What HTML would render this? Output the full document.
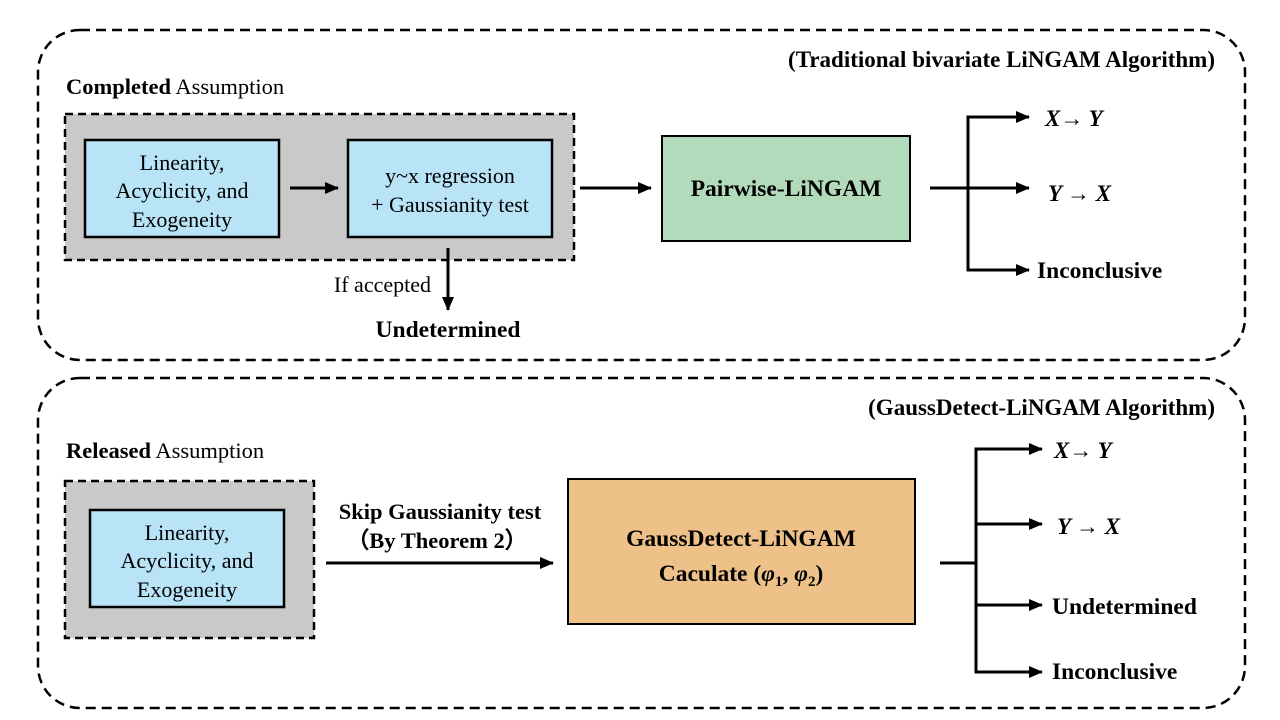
<!DOCTYPE html>
<html><head><meta charset="utf-8"><style>
html,body{margin:0;padding:0;background:#fff;}
svg{display:block;}
text{font-family:"Liberation Serif",serif;fill:#000;}
.b{font-weight:bold;}
</style></head><body>
<svg width="1280" height="720" viewBox="0 0 1280 720" xmlns="http://www.w3.org/2000/svg">
<defs>
<marker id="ah" markerWidth="14" markerHeight="12" refX="13" refY="6" orient="auto" markerUnits="userSpaceOnUse">
<path d="M0,0 L14,6 L0,12 z" fill="#000"/></marker>
</defs>
<rect x="38" y="30" width="1207" height="330" rx="42" fill="none" stroke="#000" stroke-width="2.5" stroke-dasharray="10,6"/>
<rect x="38" y="378" width="1207" height="330" rx="42" fill="none" stroke="#000" stroke-width="2.5" stroke-dasharray="10,6"/>

<!-- TOP -->
<text x="1215" y="67" font-size="23" class="b" text-anchor="end">(Traditional bivariate LiNGAM  Algorithm)</text>
<text x="66" y="94" font-size="22.5"><tspan class="b">Completed</tspan> Assumption</text>
<rect x="65" y="114" width="509" height="146" fill="#c9c9c9" stroke="#000" stroke-width="2.5" stroke-dasharray="8,5"/>
<rect x="85" y="140" width="194" height="97" fill="#b9e3f7" stroke="#000" stroke-width="2.5"/>
<text x="182" y="170" font-size="22" text-anchor="middle">Linearity,</text>
<text x="182" y="198" font-size="22" text-anchor="middle">Acyclicity, and</text>
<text x="182" y="227" font-size="22" text-anchor="middle">Exogeneity</text>
<line x1="290" y1="188" x2="338" y2="188" stroke="#000" stroke-width="3" marker-end="url(#ah)"/>
<rect x="348" y="140" width="204" height="97" fill="#b9e3f7" stroke="#000" stroke-width="2.5"/>
<text x="450" y="183" font-size="22" text-anchor="middle">y~x regression</text>
<text x="450" y="212" font-size="22" text-anchor="middle">+ Gaussianity  test</text>
<line x1="580" y1="188" x2="651" y2="188" stroke="#000" stroke-width="3" marker-end="url(#ah)"/>
<rect x="662" y="136" width="248" height="105" fill="#b2dbbb" stroke="#000" stroke-width="2"/>
<text x="786" y="196" font-size="23.5" class="b" text-anchor="middle">Pairwise-LiNGAM</text>
<line x1="448" y1="248" x2="448" y2="310" stroke="#000" stroke-width="3" marker-end="url(#ah)"/>
<text x="431" y="292" font-size="22" text-anchor="end">If accepted</text>
<text x="448" y="337" font-size="23.5" class="b" text-anchor="middle">Undetermined</text>
<line x1="930" y1="188" x2="1029" y2="188" stroke="#000" stroke-width="3" marker-end="url(#ah)"/>
<polyline points="1020,117 968,117 968,270 1020,270" fill="none" stroke="#000" stroke-width="3"/>
<line x1="1010" y1="117" x2="1029" y2="117" stroke="#000" stroke-width="3" marker-end="url(#ah)"/>
<line x1="1010" y1="270" x2="1029" y2="270" stroke="#000" stroke-width="3" marker-end="url(#ah)"/>
<text x="1045" y="126" font-size="23" class="b" font-style="italic">X<tspan font-weight="normal" font-style="normal">→</tspan> Y</text>
<text x="1048" y="201" font-size="23" class="b" font-style="italic">Y <tspan font-weight="normal" font-style="normal">→</tspan> X</text>
<text x="1037" y="278" font-size="23.5" class="b">Inconclusive</text>

<!-- BOTTOM -->
<text x="1215" y="415" font-size="23" class="b" text-anchor="end">(GaussDetect-LiNGAM Algorithm)</text>
<text x="66" y="458" font-size="22.5"><tspan class="b">Released</tspan> Assumption</text>
<rect x="65" y="481" width="249" height="157" fill="#c9c9c9" stroke="#000" stroke-width="2.5" stroke-dasharray="8,5"/>
<rect x="90" y="510" width="194" height="97" fill="#b9e3f7" stroke="#000" stroke-width="2.5"/>
<text x="187" y="540" font-size="22" text-anchor="middle">Linearity,</text>
<text x="187" y="568" font-size="22" text-anchor="middle">Acyclicity, and</text>
<text x="187" y="597" font-size="22" text-anchor="middle">Exogeneity</text>
<text x="440" y="519" font-size="22.5" class="b" text-anchor="middle">Skip Gaussianity test</text>
<text x="437" y="548" font-size="22.5" class="b" text-anchor="middle">（By Theorem 2）</text>
<line x1="326" y1="563" x2="553" y2="563" stroke="#000" stroke-width="3" marker-end="url(#ah)"/>
<rect x="568" y="479" width="347" height="145" fill="#edc187" stroke="#000" stroke-width="2"/>
<text x="741" y="546" font-size="23.5" class="b" text-anchor="middle">GaussDetect-LiNGAM</text>
<text x="741" y="581" font-size="23.5" class="b" text-anchor="middle">Caculate (<tspan font-style="italic">φ</tspan><tspan font-size="15" dy="5">1</tspan><tspan dy="-5">, </tspan><tspan font-style="italic">φ</tspan><tspan font-size="15" dy="5">2</tspan><tspan dy="-5">)</tspan></text>
<line x1="940" y1="563" x2="976" y2="563" stroke="#000" stroke-width="3"/>
<polyline points="1030,449 976,449 976,672 1030,672" fill="none" stroke="#000" stroke-width="3"/>
<line x1="1020" y1="449" x2="1042" y2="449" stroke="#000" stroke-width="3" marker-end="url(#ah)"/>
<line x1="976" y1="524" x2="1042" y2="524" stroke="#000" stroke-width="3" marker-end="url(#ah)"/>
<line x1="976" y1="605" x2="1042" y2="605" stroke="#000" stroke-width="3" marker-end="url(#ah)"/>
<line x1="1020" y1="672" x2="1042" y2="672" stroke="#000" stroke-width="3" marker-end="url(#ah)"/>
<text x="1054" y="458" font-size="23" class="b" font-style="italic">X<tspan font-weight="normal" font-style="normal">→</tspan> Y</text>
<text x="1057" y="534" font-size="23" class="b" font-style="italic">Y <tspan font-weight="normal" font-style="normal">→</tspan> X</text>
<text x="1052" y="614" font-size="23.5" class="b">Undetermined</text>
<text x="1052" y="679" font-size="23.5" class="b">Inconclusive</text>
</svg>
</body></html>
